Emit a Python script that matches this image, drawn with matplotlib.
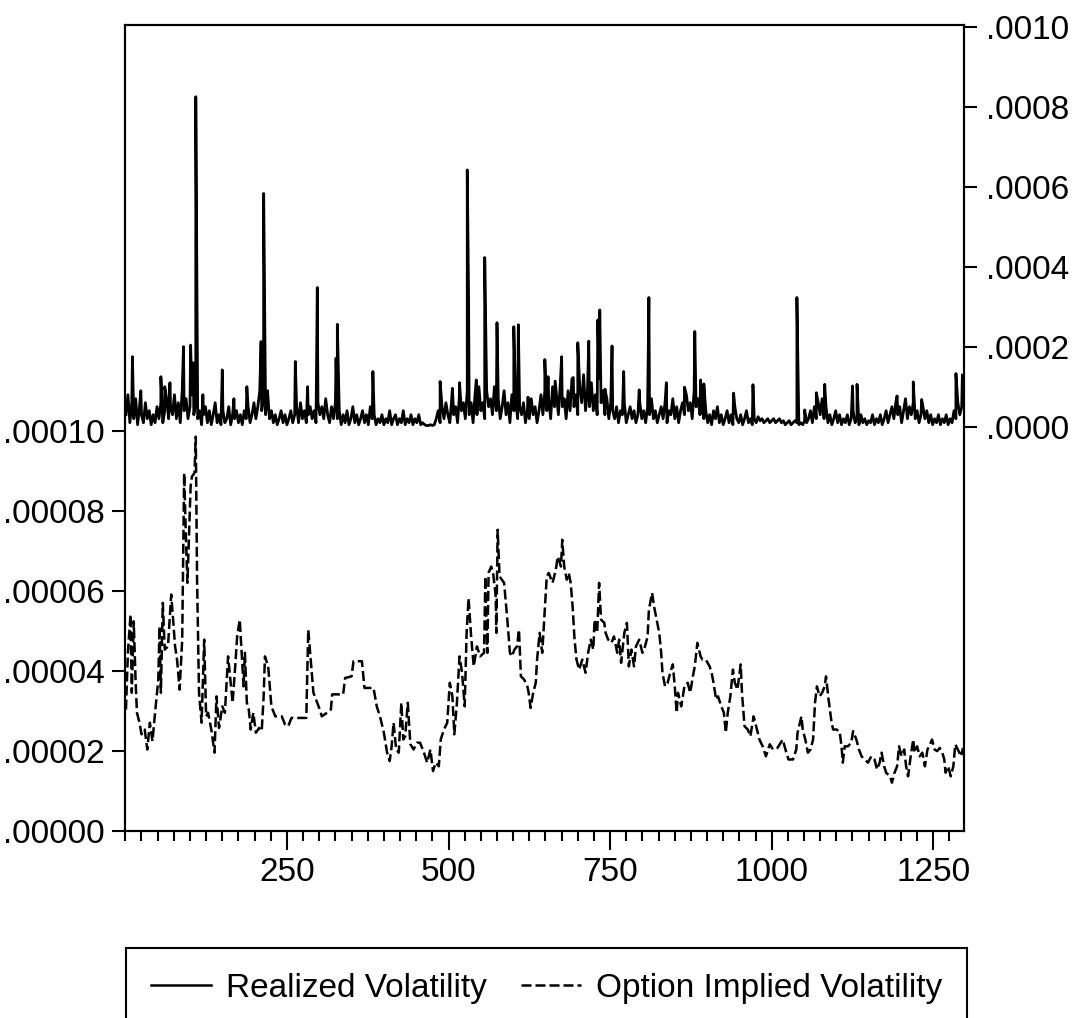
import numpy as np
import matplotlib
matplotlib.use("Agg")
from matplotlib import pyplot as plt
from matplotlib.ticker import FixedLocator, MultipleLocator, FuncFormatter
from matplotlib.lines import Line2D

plt.rcParams['font.family'] = ['Liberation Sans', 'DejaVu Sans']

# Option implied volatility (left axis, units of 1e-5)
iv_t = [1, 4, 8, 10, 13, 16, 18, 22, 25, 30, 34, 38, 42, 46, 51, 53, 55, 58, 61, 66,
        71, 77, 80, 84, 88, 91, 94, 96, 98, 101, 103, 107, 109, 111, 114, 118, 122, 125, 128, 133,
        138, 141, 145, 150, 154, 159, 163, 166, 170, 173, 177, 180, 183, 185, 188, 191, 194, 198, 202, 207,
        211, 214, 216, 221, 226, 232, 242, 247, 252, 257, 265, 275, 280, 283, 286, 291, 299, 304, 312, 318,
        320, 330, 337, 340, 350, 353, 366, 370, 384, 389, 394, 400, 405, 409, 412, 415, 419, 423, 427, 430,
        433, 437, 441, 446, 451, 456, 462, 467, 472, 476, 480, 485, 488, 493, 498, 502, 506, 509, 513, 517,
        521, 525, 528, 531, 535, 539, 544, 549, 555, 557, 560, 562, 566, 569, 573, 574, 576, 579, 586, 591,
        595, 598, 602, 606, 609, 612, 617, 622, 624, 627, 631, 635, 637, 641, 645, 648, 652, 655, 661, 666,
        669, 674, 676, 679, 683, 686, 689, 692, 695, 698, 702, 707, 712, 716, 720, 724, 726, 730, 733, 736,
        741, 743, 747, 752, 756, 761, 764, 767, 772, 776, 779, 783, 787, 790, 795, 800, 804, 808, 810, 815,
        818, 822, 826, 829, 831, 835, 839, 843, 847, 850, 853, 855, 860, 865, 870, 874, 878, 881, 885, 890,
        893, 898, 904, 907, 910, 914, 917, 922, 926, 929, 932, 936, 940, 943, 947, 952, 954, 958, 963, 967,
        972, 976, 981, 986, 991, 997, 1002, 1009, 1017, 1022, 1026, 1033, 1038, 1040, 1046, 1048, 1052, 1056, 1060, 1064,
        1067, 1070, 1074, 1078, 1082, 1084, 1088, 1092, 1095, 1100, 1105, 1108, 1110, 1113, 1118, 1123, 1126, 1131, 1135, 1139,
        1144, 1149, 1154, 1159, 1163, 1167, 1170, 1174, 1177, 1183, 1186, 1190, 1194, 1197, 1201, 1205, 1208, 1211, 1215, 1219,
        1221, 1225, 1229, 1233, 1237, 1241, 1245, 1248, 1252, 1256, 1260, 1264, 1267, 1269, 1273, 1277, 1281, 1284, 1288, 1293,
        1296]
iv_val = [3.04, 4.46, 5.42, 3.46, 5.25, 3.71, 2.96, 2.71, 2.42, 2.54, 2.04, 2.71, 2.25, 2.96, 3.79, 5.12, 3.46, 5.71, 4.54, 4.62,
          5.92, 4.62, 4.29, 3.54, 4.79, 8.96, 7.21, 6.21, 7.12, 8.62, 8.87, 8.96, 9.87, 6.29, 3.46, 2.71, 4.79, 2.87, 2.96, 2.54,
          1.96, 3.37, 2.58, 3.12, 2.96, 4.37, 3.71, 3.21, 4.12, 4.87, 5.29, 4.46, 3.62, 4.46, 3.21, 3.04, 2.54, 2.96, 2.46, 2.58,
          2.50, 3.37, 4.37, 4.12, 3.12, 2.87, 2.87, 2.67, 2.62, 2.83, 2.83, 2.83, 2.83, 5.04, 4.46, 3.46, 3.12, 2.87, 2.96, 3.04,
          3.42, 3.42, 3.42, 3.83, 3.87, 4.25, 4.25, 3.58, 3.58, 3.12, 2.87, 2.46, 1.96, 1.75, 2.12, 2.71, 2.04, 1.96, 3.21, 2.29,
          2.37, 3.21, 2.17, 2.04, 2.21, 2.21, 1.96, 1.71, 2.04, 1.50, 1.71, 1.62, 2.29, 2.54, 2.71, 3.71, 3.37, 2.42, 3.21, 4.37,
          3.96, 3.12, 4.96, 5.83, 4.87, 4.12, 4.62, 4.37, 4.46, 6.37, 4.46, 6.46, 6.62, 6.46, 5.87, 4.96, 7.54, 6.37, 6.21, 5.29,
          4.46, 4.37, 4.54, 4.62, 5.04, 3.87, 3.79, 3.62, 3.46, 3.08, 3.46, 3.71, 4.29, 4.96, 4.46, 5.29, 6.37, 6.46, 6.21, 6.54,
          6.87, 6.62, 7.29, 6.62, 6.29, 6.46, 6.21, 5.62, 4.79, 4.29, 4.04, 4.29, 3.96, 4.46, 4.79, 4.54, 5.29, 4.96, 6.21, 5.29,
          5.21, 4.96, 4.79, 4.71, 4.87, 4.46, 4.79, 4.21, 4.96, 5.21, 4.12, 4.54, 4.12, 4.62, 4.79, 4.46, 4.62, 4.87, 5.54, 5.96,
          5.62, 5.29, 4.96, 4.46, 3.96, 3.62, 3.71, 3.96, 4.17, 3.62, 2.96, 3.46, 3.12, 3.62, 3.71, 3.46, 3.87, 4.12, 4.71, 4.37,
          4.29, 4.29, 4.12, 3.96, 3.71, 3.29, 3.37, 3.12, 2.96, 2.46, 2.96, 3.37, 4.04, 3.71, 3.54, 4.17, 3.46, 2.62, 2.54, 2.37,
          2.87, 2.62, 2.29, 2.12, 1.87, 2.17, 2.04, 2.08, 2.29, 2.00, 1.79, 1.79, 2.04, 2.46, 2.87, 2.54, 2.29, 1.96, 2.04, 2.29,
          3.21, 3.62, 3.37, 3.46, 3.62, 3.87, 3.29, 2.79, 2.54, 2.54, 2.50, 2.12, 1.71, 2.12, 2.12, 2.21, 2.50, 2.29, 2.04, 1.87,
          1.79, 1.71, 1.87, 1.79, 1.54, 1.71, 1.96, 1.62, 1.46, 1.37, 1.21, 1.46, 1.62, 2.12, 1.87, 2.04, 1.62, 1.37, 1.87, 2.29,
          1.96, 2.12, 1.87, 1.96, 1.62, 2.04, 2.17, 2.29, 2.04, 2.00, 2.08, 1.96, 1.79, 1.46, 1.62, 1.37, 1.62, 2.17, 2.04, 1.87,
          2.08]

# Realized volatility (right axis, units of 1e-4): background noise every 3 obs
rv_floor_t = np.arange(1, 1295, 3)
rv_floor = [0.3, 0.8, 0.1, 0.6, 0.2, 0.7, 0.05, 0.5, 0.3, 0.1, 0.6, 0.2,
            0.4, 0.05, 0.3, 0.1, 0.5, 0.2, 0.6, 0.1, 0.4, 0.7, 0.2, 0.5,
            0.3, 0.8, 0.2, 0.6, 0.1, 0.9, 0.4, 0.7, 0.2, 0.5, 0.8, 0.3,
            0.6, 0.2, 0.4, 0.05, 0.3, 0.5, 0.1, 0.4, 0.05, 0.3, 0.6, 0.1,
            0.3, 0.05, 0.4, 0.1, 0.2, 0.5, 0.05, 0.3, 0.2, 0.4, 0.1, 0.3,
            0.05, 0.4, 0.2, 0.5, 0.1, 0.3, 0.6, 0.2, 0.5, 0.9, 0.4, 0.7,
            0.3, 0.8, 0.2, 0.4, 0.1, 0.3, 0.05, 0.2, 0.4, 0.1, 0.3, 0.05,
            0.2, 0.4, 0.1, 0.3, 0.5, 0.1, 0.6, 0.2, 0.4, 0.1, 0.3, 0.5,
            0.2, 0.4, 0.1, 0.6, 0.3, 0.5, 0.2, 0.7, 0.3, 0.1, 0.5, 0.2,
            0.6, 0.2, 0.4, 0.05, 0.3, 0.1, 0.4, 0.05, 0.2, 0.5, 0.1, 0.3,
            0.05, 0.2, 0.4, 0.1, 0.3, 0.05, 0.5, 0.2, 0.3, 0.05, 0.2, 0.1,
            0.3, 0.05, 0.2, 0.1, 0.4, 0.05, 0.2, 0.3, 0.05, 0.2, 0.1, 0.4,
            0.05, 0.2, 0.1, 0.3, 0.05, 0.2, 0.1, 0.3, 0.05, 0.1, 0.05, 0.03,
            0.03, 0.05, 0.03, 0.05, 0.2, 0.4, 0.1, 0.5, 0.2, 0.6, 0.3, 0.1,
            0.7, 0.3, 0.5, 0.1, 0.8, 0.4, 0.6, 0.2, 0.9, 0.3, 0.6, 0.1,
            0.8, 0.3, 1.0, 0.4, 0.6, 0.2, 0.9, 0.5, 0.7, 0.3, 1.0, 0.4,
            0.7, 0.2, 0.5, 0.9, 0.3, 0.6, 0.1, 0.8, 0.4, 0.6, 0.2, 0.5,
            0.3, 0.6, 0.1, 0.4, 0.2, 0.7, 0.3, 0.5, 0.1, 0.4, 0.8, 0.3,
            0.9, 0.4, 0.7, 0.2, 1.0, 0.5, 0.8, 0.3, 1.1, 0.5, 0.7, 0.2,
            0.9, 0.4, 1.2, 0.5, 0.8, 0.3, 1.0, 0.6, 1.3, 0.4, 0.9, 0.5,
            1.1, 0.4, 0.8, 0.3, 1.2, 0.6, 0.9, 0.3, 0.7, 0.2, 0.6, 0.4,
            0.2, 0.5, 0.1, 0.4, 0.3, 0.6, 0.1, 0.3, 0.5, 0.2, 0.4, 0.1,
            0.3, 0.6, 0.2, 0.4, 0.1, 0.5, 0.3, 0.7, 0.2, 0.4, 0.1, 0.3,
            0.5, 0.2, 0.6, 0.1, 0.4, 0.3, 0.7, 0.2, 0.5, 0.1, 0.4, 0.6,
            0.3, 0.8, 0.4, 0.6, 0.2, 0.9, 0.5, 0.7, 0.3, 0.5, 0.2, 0.4,
            0.1, 0.3, 0.05, 0.4, 0.2, 0.5, 0.1, 0.3, 0.05, 0.2, 0.4, 0.1,
            0.3, 0.05, 0.5, 0.2, 0.1, 0.3, 0.05, 0.2, 0.4, 0.1, 0.2, 0.05,
            0.2, 0.1, 0.25, 0.15, 0.2, 0.1, 0.15, 0.2, 0.1, 0.15, 0.2, 0.1,
            0.15, 0.2, 0.1, 0.15, 0.05, 0.1, 0.15, 0.05, 0.1, 0.15, 0.1, 0.05,
            0.1, 0.05, 0.15, 0.1, 0.2, 0.4, 0.1, 0.5, 0.2, 0.6, 0.3, 0.7,
            0.2, 0.5, 0.1, 0.3, 0.05, 0.2, 0.4, 0.1, 0.3, 0.05, 0.2, 0.1,
            0.3, 0.05, 0.2, 0.4, 0.1, 0.2, 0.05, 0.3, 0.1, 0.2, 0.05, 0.15,
            0.1, 0.3, 0.05, 0.2, 0.1, 0.3, 0.05, 0.2, 0.4, 0.1, 0.3, 0.5,
            0.2, 0.6, 0.3, 0.5, 0.1, 0.4, 0.7, 0.2, 0.5, 0.3, 0.6, 0.2,
            0.4, 0.1, 0.3, 0.5, 0.2, 0.4, 0.1, 0.3, 0.05, 0.2, 0.1, 0.3,
            0.05, 0.2, 0.1, 0.3, 0.05, 0.2, 0.1, 0.4, 0.2, 0.6, 0.3, 0.5]
# the spikes
rv_spike_t = [11, 24, 55, 61, 69, 90, 101, 105, 109, 120, 150, 168, 188, 210, 214, 220, 263, 282, 297, 326,
              328, 383, 487, 506, 517, 529, 531, 543, 556, 575, 601, 608, 623, 649, 654, 665, 675, 693, 700, 717,
              731, 734, 742, 753, 771, 795, 810, 837, 865, 881, 890, 895, 941, 971, 1039, 1051, 1069, 1082, 1125, 1132,
              1194, 1219, 1232, 1285, 1295]
rv_spike = [1.75, 0.9, 1.25, 1.0, 1.1, 2.0, 2.04, 1.6, 8.25, 0.8, 1.42, 0.7, 1.0, 2.13, 5.83, 0.9, 1.63, 1.0, 3.48, 1.71,
            2.56, 1.38, 1.13, 0.96, 1.1, 6.42, 3.3, 1.17, 4.23, 2.6, 2.5, 2.55, 0.74, 1.68, 1.25, 1.14, 1.75, 1.23, 2.1, 2.14,
            2.67, 2.92, 0.94, 2.02, 1.38, 0.92, 3.23, 1.1, 0.99, 2.38, 1.17, 1.07, 0.84, 1.05, 3.23, 0.42, 0.85, 1.06, 1.02, 1.06,
            0.77, 1.12, 0.68, 1.33, 1.29]

xticks = [250, 500, 750, 1000, 1250]
left_ticks = [0, 2e-5, 4e-5, 6e-5, 8e-5, 1e-4]
right_ticks = [0, 2e-4, 4e-4, 6e-4, 8e-4, 1e-3]

rv_t = np.concatenate([rv_floor_t, rv_spike_t])
rv_v = np.concatenate([rv_floor, rv_spike]) * 1e-4
order = np.argsort(rv_t, kind='stable')
rv_t, rv_v = rv_t[order], rv_v[order]

fig = plt.figure(figsize=(10.73, 10.18), dpi=100)
ax = fig.add_axes([125 / 1073, 1 - 831 / 1018, 839 / 1073, 806 / 1018])
ax2 = ax.twinx()

dash = (0, (4, 1.6))
ax.plot(iv_t, np.array(iv_val) * 1e-5, color='black', lw=1.8, linestyle=dash)
ax2.plot(rv_t, rv_v, color='black', lw=2.0)

ax.set_xlim(-0.5, 1297.5)
ax.set_ylim(0, 2.0174e-4)
ax2.set_ylim(-1.0107e-3, 1.0043e-3)

ax.xaxis.set_major_locator(FixedLocator(xticks))
ax.xaxis.set_minor_locator(MultipleLocator(25))
ax.set_yticks(left_ticks)
ax2.set_yticks(right_ticks)
ax.yaxis.set_major_formatter(FuncFormatter(lambda v, p: f"{v:.5f}"[1:]))
ax2.yaxis.set_major_formatter(FuncFormatter(lambda v, p: f"{v:.4f}"[1:]))

for a in (ax, ax2):
    for s in a.spines.values():
        s.set_linewidth(1.5)

fs = 24
ax.tick_params(axis='x', which='major', length=14, width=1.5, pad=5, labelsize=fs, direction='out')
ax.tick_params(axis='x', which='minor', length=7, width=1.5, direction='out')
ax.tick_params(axis='y', which='major', length=9.5, width=1.5, pad=5, labelsize=fs, direction='out')
ax2.tick_params(axis='y', which='major', length=9.5, width=1.5, pad=6, labelsize=fs, direction='out')

handles = [Line2D([], [], color='black', lw=1.8),
           Line2D([], [], color='black', lw=1.8, linestyle=dash)]
leg = fig.legend(handles, ['Realized Volatility', 'Option Implied Volatility'],
                 loc='upper left', bbox_to_anchor=(126 / 1073, 1 - 948 / 1018, 841 / 1073, 0),
                 mode='expand', ncol=2, fontsize=fs, frameon=True, fancybox=False,
                 edgecolor='black', framealpha=1, borderaxespad=0, borderpad=0.75,
                 handlelength=1.8, handletextpad=0.45, columnspacing=0.6)
leg.get_frame().set_linewidth(1.5)

fig.savefig('out.png', dpi=100)
